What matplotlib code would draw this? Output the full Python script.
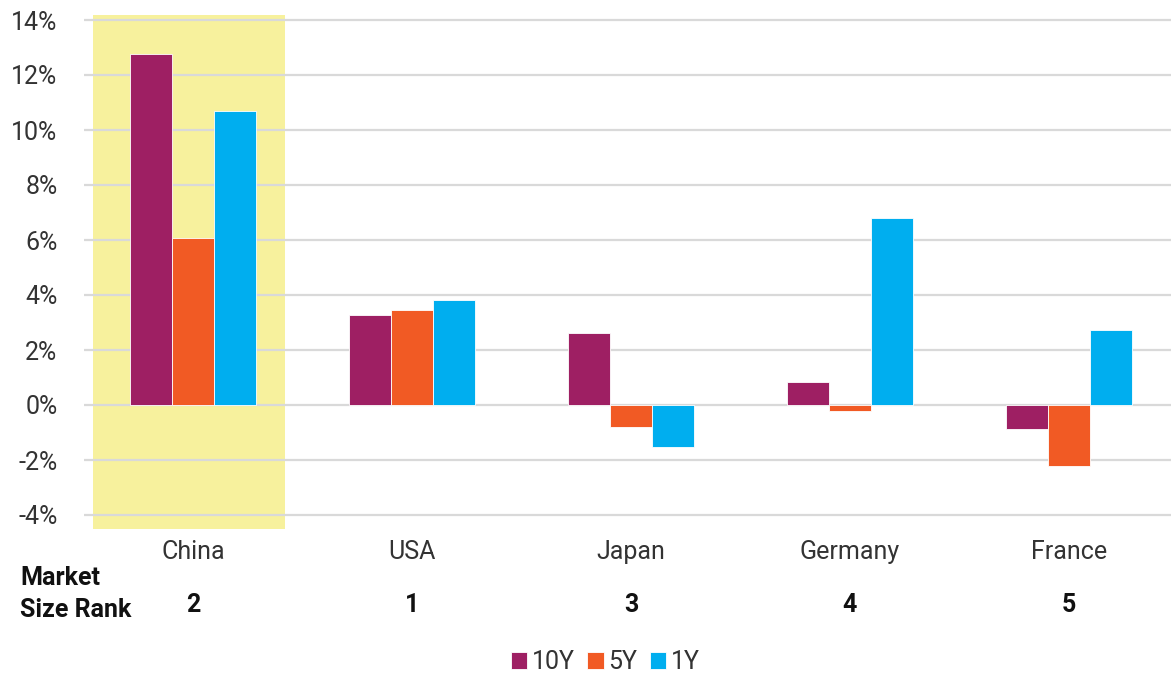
import matplotlib
matplotlib.use("Agg")
import matplotlib.pyplot as plt
import numpy as np

countries = ["China", "USA", "Japan", "Germany", "France"]
ranks = ["2", "1", "3", "4", "5"]
series_names = ["10Y", "5Y", "1Y"]
ret_10y = [12.76, 3.27, 2.62, 0.84, -0.87]
ret_5y = [6.07, 3.45, -0.80, -0.22, -2.22]
ret_1y = [10.69, 3.82, -1.53, 6.80, 2.73]
yticks = [-4, -2, 0, 2, 4, 6, 8, 10, 12, 14]
colors = ["#9E1F63", "#F15A24", "#00AEEF"]

plt.rcParams['font.family'] = ['Roboto', 'DejaVu Sans']
fig = plt.figure(figsize=(11.71, 6.76), dpi=100)
ax = fig.add_axes([84/1171, 1 - 528.75/676, 1 - 84/1171, 517/676])
ax.set_ylim(-4.5, 14.3)
ax.set_xlim(-0.5, 4.467)

x = np.arange(len(countries))
w = 0.192
ax.axvspan(-0.457, 0.42, ymin=0, ymax=(14.2 + 4.5) / 18.8, color="#F7F19D", zorder=0, lw=0)
for i, (vals, c) in enumerate(zip([ret_10y, ret_5y, ret_1y], colors)):
    ax.bar(x + (i - 1) * w, vals, width=w, color=c, edgecolor="white", linewidth=0.6,
           label=series_names[i], zorder=3)

fs = 18
ax.set_yticks(yticks)
ax.set_yticklabels([f"{t}%" for t in yticks], fontsize=fs, color="#333333")
ax.yaxis.grid(True, color="#d9d9d9", linewidth=1.6, zorder=1)
ax.set_axisbelow(True)
ax.tick_params(axis="y", length=0, pad=19)
ax.tick_params(axis="x", length=0, pad=8)
ax.set_xticks(x)
ax.set_xticklabels(countries, fontsize=fs, color="#333333")
for s in ax.spines.values():
    s.set_visible(False)

for xi, r in zip(x, ranks):
    ax.text(xi, -7.27, r, ha="center", va="center", fontsize=fs, fontweight="bold",
            color="#111111", transform=ax.transData, clip_on=False)
fig.text(20/1171, 1 - 578/676, "Market", ha="left", va="center", fontsize=fs,
         fontweight="bold", color="#111111")
fig.text(20/1171, 1 - 610/676, "Size Rank", ha="left", va="center", fontsize=fs,
         fontweight="bold", color="#111111")

leg = fig.legend(loc="center", bbox_to_anchor=(0.517, 1 - 662/676), ncol=3, frameon=False,
                 fontsize=fs, handlelength=0.65, handleheight=0.65, handletextpad=0.2,
                 columnspacing=0.5, labelcolor="#333333")
fig.savefig("out.png", dpi=100)
